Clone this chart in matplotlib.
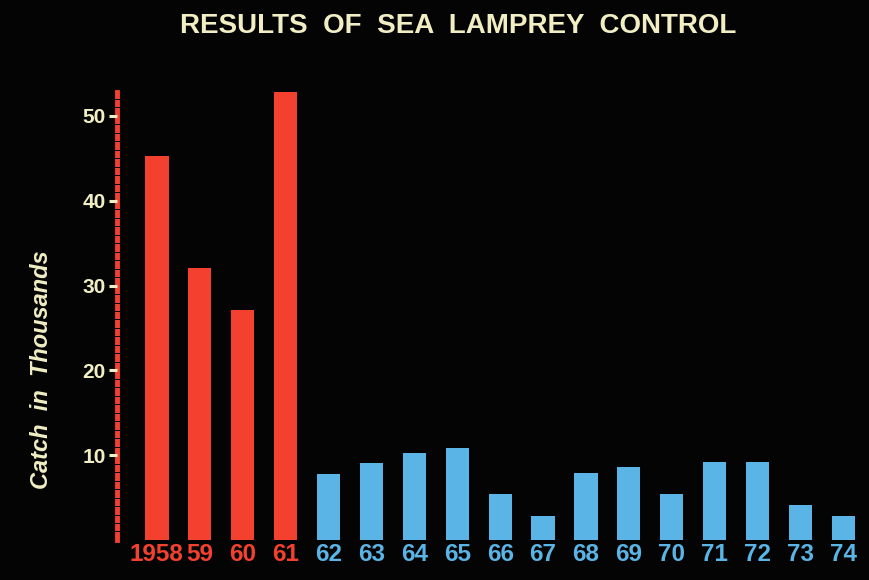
import numpy as np
import matplotlib.pyplot as plt

# catch per year, in thousands
years = ["1958", "59", "60", "61", "62", "63", "64", "65", "66",
         "67", "68", "69", "70", "71", "72", "73", "74"]
catch = [45.3, 32.1, 27.1, 52.9, 7.8, 9.1, 10.2, 10.9, 5.4,
         2.8, 7.9, 8.6, 5.4, 9.2, 9.2, 4.1, 2.8]
n_before = 4  # years before control started

red = "#f4412f"
blue = "#5ab4e6"
cream = "#f2eec4"
bg = "#040404"

plt.rcParams["font.family"] = ["Liberation Sans", "DejaVu Sans"]

fig = plt.figure(figsize=(8.7, 5.8), dpi=100, facecolor=bg)
ax = fig.add_axes([0.1345, 0.069, 0.8655, 0.772], facecolor=bg)

x = np.arange(len(years))
colors = [red] * n_before + [blue] * (len(years) - n_before)
ax.bar(x, catch, width=0.54, color=colors)

ax.set_xlim(-0.93, 16.62)
ax.set_ylim(0, 52.8)

for s in ["top", "right", "bottom"]:
    ax.spines[s].set_visible(False)
ax.spines["left"].set_color(red)
ax.spines["left"].set_linewidth(3.5)
ax.spines["left"].set_zorder(1)  # keep the minor marks on top of it

ax.set_yticks([10, 20, 30, 40, 50])
ax.set_yticks(np.arange(1, 53), minor=True)
ax.tick_params(axis="y", which="major", colors=cream, length=6, width=2.2,
               pad=2, labelsize=15)
# thin dark marks across the red axis line, one per thousand
ax.tick_params(axis="y", which="minor", color=bg, length=5, width=0.7,
               direction="inout")
for lab in ax.get_yticklabels():
    lab.set_fontweight("bold")

ax.set_xticks(x)
ax.set_xticklabels(years, fontsize=17.5, fontweight="bold")
ax.tick_params(axis="x", length=0, pad=2)
for lab, c in zip(ax.get_xticklabels(), colors):
    lab.set_color(c)

ax.set_ylabel("Catch  in  Thousands", color=cream, fontsize=17,
              fontstyle="italic", fontweight="bold")
ax.yaxis.set_label_coords(-0.085, 0.38)

fig.text(0.527, 0.955, "RESULTS  OF  SEA  LAMPREY  CONTROL", color=cream,
         fontsize=20, fontweight="bold", ha="center", va="center")

fig.savefig("out.png", dpi=100, facecolor=bg)
